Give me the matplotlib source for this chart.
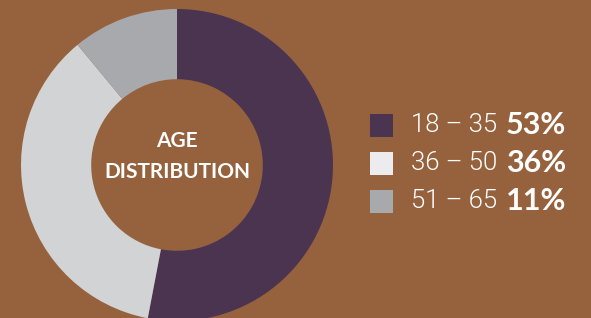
import matplotlib
matplotlib.use("Agg")
import matplotlib.pyplot as plt
from matplotlib.patches import Rectangle

# ── Datos ────────────────────────────────────────────────────────────────────
age_groups = ["18 – 35", "36 – 50", "51 – 65"]
shares = [53, 36, 11]
slice_colors = ["#4B3450", "#D1D3D4", "#A7A9AC"]
swatch_colors = ["#4B3450", "#ECECEF", "#A7A9AC"]
center_title = ["AGE", "DISTRIBUTION"]

BG = "#95623D"

fig = plt.figure(figsize=(5.91, 3.18), dpi=100, facecolor=BG)
ax = fig.add_axes([0, 0, 1, 1])
ax.set_facecolor(BG)

# Donut en coordenadas de pixel (y hacia arriba)
R = 156
ax.pie(shares, colors=slice_colors, startangle=90, counterclock=False,
       radius=R, center=(177, 153), wedgeprops=dict(width=R * 0.45, linewidth=0))

ax.text(177, 318 - 141, center_title[0], ha="center", va="center",
        color="white", fontsize=15, fontweight="bold", family="Lato")
ax.text(177, 318 - 172, center_title[1], ha="center", va="center",
        color="white", fontsize=15, fontweight="bold", family="Lato")

# Leyenda manual
for i, (lab, val, col) in enumerate(zip(age_groups, shares, swatch_colors)):
    yc = 318 - (125 + 38 * i)
    ax.add_patch(Rectangle((370, yc - 11.5), 23, 23, color=col, lw=0))
    ax.text(411, yc, lab, ha="left", va="center", color="white",
            fontsize=18.5, fontweight=300, family="Roboto")
    ax.text(506, yc, f"{val}%", ha="left", va="center", color="white",
            fontsize=22, fontweight="bold", family="Lato")

ax.set_xlim(0, 591)
ax.set_ylim(0, 318)
ax.set_aspect("equal")
ax.axis("off")

fig.savefig("out.png", dpi=100, facecolor=BG)
